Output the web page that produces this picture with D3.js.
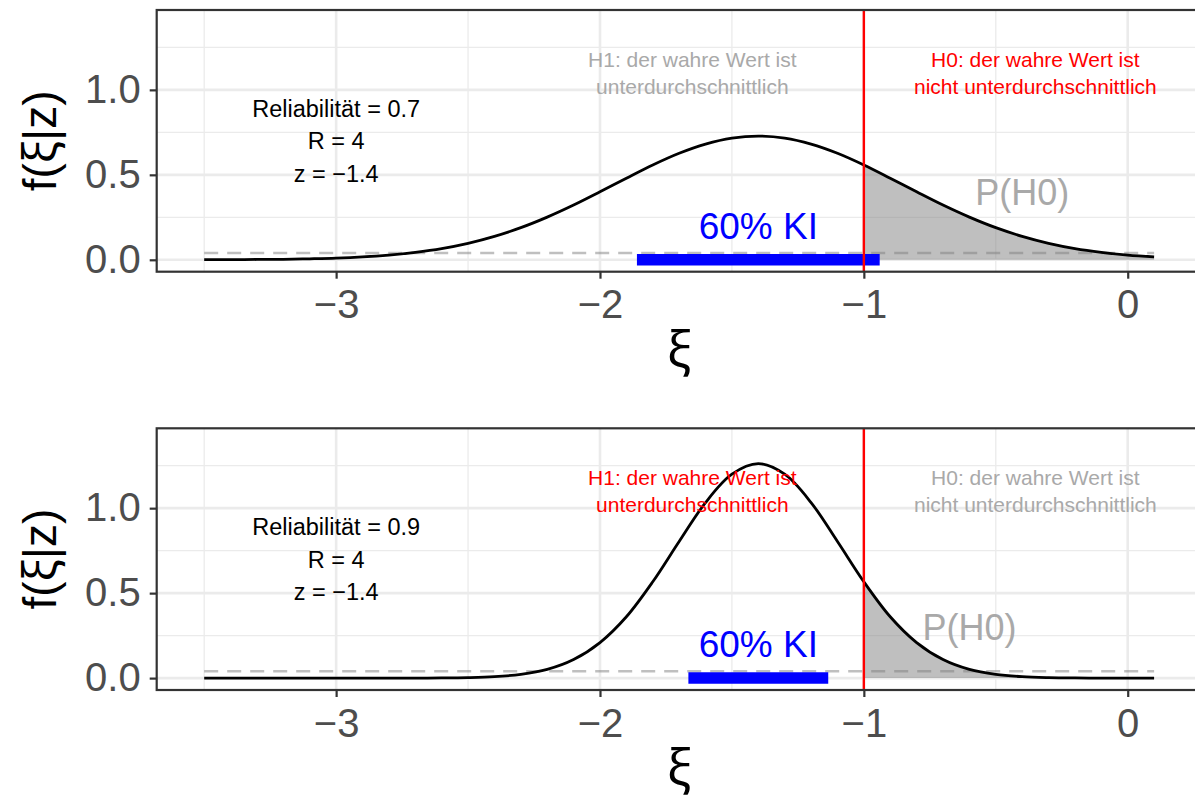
<!DOCTYPE html>
<html>
<head>
<meta charset="utf-8">
<script src="https://cdn.jsdelivr.net/npm/d3@7"></script>
<style>
  body { margin: 0; background: #fff; }
  svg { display: block; }
</style>
</head>
<body>
<svg id="chart" width="1195" height="801"></svg>
<script>
// ---- data -------------------------------------------------------------
// grid of true-score values xi
const xiValues = [-3.5, -3.4, -3.3, -3.2, -3.1, -3.0, -2.9, -2.8, -2.7, -2.6,
                  -2.5, -2.4, -2.3, -2.2, -2.1, -2.0, -1.9, -1.8, -1.7, -1.6,
                  -1.5, -1.4, -1.3, -1.2, -1.1, -1.0, -0.9, -0.8, -0.7, -0.6,
                  -0.5, -0.4, -0.3, -0.2, -0.1, 0.0, 0.1];

// posterior density f(xi|z), reliability 0.7
const densityRel07 = [0.0005, 0.001, 0.002, 0.003, 0.006, 0.010, 0.017, 0.028, 0.044, 0.066,
                      0.097, 0.138, 0.189, 0.251, 0.322, 0.400, 0.480, 0.558, 0.627, 0.681,
                      0.716, 0.728, 0.716, 0.681, 0.627, 0.558, 0.480, 0.400, 0.322, 0.251,
                      0.189, 0.138, 0.097, 0.066, 0.044, 0.028, 0.017];

// posterior density f(xi|z), reliability 0.9
const densityRel09 = [0, 0, 0, 0, 0, 0, 0, 0.0001, 0.0003, 0.0009,
                      0.003, 0.0085, 0.022, 0.051, 0.109, 0.209, 0.361, 0.567, 0.804, 1.033,
                      1.200, 1.262, 1.200, 1.033, 0.804, 0.567, 0.361, 0.209, 0.109, 0.051,
                      0.022, 0.0085, 0.003, 0.0009, 0.0003, 0.0001, 0];

// 60% confidence intervals
const ciRel07 = [-1.86, -0.94];
const ciRel09 = [-1.665, -1.135];

const reliabilities = ["0.7", "0.9"];
const criticalValue = -1;       // boundary between H1 and H0
const referenceLevel = 0.04;    // dashed reference line
const xTicks = [-3, -2, -1, 0];
const xMinor = [-3.5, -2.5, -1.5, -0.5];
const yTicks = [0, 0.5, 1.0];
const yMinor = [0.25, 0.75, 1.25];
const yLimits = [0, 1.4];

// ---- layout -----------------------------------------------------------
const svg = d3.select("#chart");
const FONT = "'Liberation Sans', Arial, Helvetica, sans-serif";
const GREEK = "'Noto Sans', 'DejaVu Sans', sans-serif";
const panelLeft = 156.7, panelRight = 1201.6, panelHeight = 261.7;
const panelTops = [10, 428.3];

const expand = (lo, hi) => { const p = (hi - lo) * 0.05; return [lo - p, hi + p]; };
const x = d3.scaleLinear()
  .domain(expand(d3.min(xiValues), d3.max(xiValues)))
  .range([panelLeft, panelRight]);

const panels = [
  { rel: reliabilities[0], dens: densityRel07, ci: ciRel07, h1Color: "#a9a9a9", h0Color: "#ff0000", pLabel: [-0.4, 0.4] },
  { rel: reliabilities[1], dens: densityRel09, ci: ciRel09, h1Color: "#ff0000", h0Color: "#a9a9a9", pLabel: [-0.6, 0.3] }
];

function multiline(g, lines, cx, cy, size, spacing, color) {
  const capHalf = 0.716 * size / 2;
  lines.forEach((t, i) => {
    g.append("text")
      .attr("x", cx)
      .attr("y", cy + (i - (lines.length - 1) / 2) * spacing + capHalf)
      .attr("text-anchor", "middle")
      .attr("font-family", FONT)
      .attr("font-size", size)
      .attr("fill", color)
      .text(t);
  });
}

panels.forEach((p, k) => {
  const top = panelTops[k];
  const bottom = top + panelHeight;
  const y = d3.scaleLinear().domain(expand(yLimits[0], yLimits[1])).range([bottom, top]);
  const pts = xiValues.map((v, i) => [v, p.dens[i]]);
  const g = svg.append("g");

  const clipId = "panel-clip-" + k;
  const shadeId = "shade-clip-" + k;
  const defs = g.append("defs");
  defs.append("clipPath").attr("id", clipId)
    .append("rect").attr("x", panelLeft).attr("y", top)
    .attr("width", panelRight - panelLeft).attr("height", panelHeight);
  defs.append("clipPath").attr("id", shadeId)
    .append("rect").attr("x", x(criticalValue)).attr("y", top)
    .attr("width", panelRight - x(criticalValue)).attr("height", panelHeight);

  // grid
  const grid = g.append("g");
  grid.selectAll(".vmin").data(xMinor).join("line")
    .attr("x1", d => x(d)).attr("x2", d => x(d)).attr("y1", top).attr("y2", bottom)
    .attr("stroke", "#ebebeb").attr("stroke-width", 1.3);
  grid.selectAll(".hmin").data(yMinor).join("line")
    .attr("x1", panelLeft).attr("x2", panelRight).attr("y1", d => y(d)).attr("y2", d => y(d))
    .attr("stroke", "#ebebeb").attr("stroke-width", 1.3);
  grid.selectAll(".vmaj").data(xTicks).join("line")
    .attr("x1", d => x(d)).attr("x2", d => x(d)).attr("y1", top).attr("y2", bottom)
    .attr("stroke", "#ebebeb").attr("stroke-width", 2.6);
  grid.selectAll(".hmaj").data(yTicks).join("line")
    .attr("x1", panelLeft).attr("x2", panelRight).attr("y1", d => y(d)).attr("y2", d => y(d))
    .attr("stroke", "#ebebeb").attr("stroke-width", 2.6);

  const marks = g.append("g").attr("clip-path", `url(#${clipId})`);
  const curve = d3.curveCatmullRom.alpha(0.5);

  // P(H0) region under the density
  marks.append("path")
    .datum(pts)
    .attr("clip-path", `url(#${shadeId})`)
    .attr("d", d3.area().x(d => x(d[0])).y0(y(0)).y1(d => y(d[1])).curve(curve))
    .attr("fill", "#7f7f7f").attr("fill-opacity", 0.5);

  // dashed reference line
  marks.append("line")
    .attr("x1", x(d3.min(xiValues))).attr("x2", x(d3.max(xiValues)))
    .attr("y1", y(referenceLevel)).attr("y2", y(referenceLevel))
    .attr("stroke", "#7f7f7f").attr("stroke-opacity", 0.5)
    .attr("stroke-width", 2.6).attr("stroke-dasharray", "14 9");

  // density curve
  marks.append("path")
    .datum(pts)
    .attr("d", d3.line().x(d => x(d[0])).y(d => y(d[1])).curve(curve))
    .attr("fill", "none").attr("stroke", "#000").attr("stroke-width", 2.8);

  // confidence interval
  marks.append("line")
    .attr("x1", x(p.ci[0])).attr("x2", x(p.ci[1]))
    .attr("y1", y(0)).attr("y2", y(0))
    .attr("stroke", "#0000ff").attr("stroke-width", 11.5);

  // critical value
  marks.append("line")
    .attr("x1", x(criticalValue)).attr("x2", x(criticalValue))
    .attr("y1", top).attr("y2", bottom)
    .attr("stroke", "#ff0000").attr("stroke-width", 2.4);

  // annotations
  multiline(g, ["H1: der wahre Wert ist", "unterdurchschnittlich"], x(-1.65), y(1.1), 21, 26.6, p.h1Color);
  multiline(g, ["H0: der wahre Wert ist", "nicht unterdurchschnittlich"], x(-0.35), y(1.1), 21, 26.6, p.h0Color);
  multiline(g, ["Reliabilität = " + p.rel, "R = 4", "z = \u22121.4"], x(-3), y(0.7), 23.5, 32.5, "#000");
  multiline(g, ["60% KI"], x(-1.4), y(0.2), 37, 0, "#0000ff");
  multiline(g, ["P(H0)"], x(p.pLabel[0]), y(p.pLabel[1]), 36, 0, "#a9a9a9");

  // panel border
  g.append("rect")
    .attr("x", panelLeft).attr("y", top)
    .attr("width", panelRight - panelLeft).attr("height", panelHeight)
    .attr("fill", "none").attr("stroke", "#333333").attr("stroke-width", 2.2);

  // axes
  const yAxis = g.append("g").attr("transform", `translate(${panelLeft},0)`)
    .call(d3.axisLeft(y).tickValues(yTicks).tickFormat(d3.format(".1f")).tickSize(7).tickPadding(9));
  const xAxis = g.append("g").attr("transform", `translate(0,${bottom})`)
    .call(d3.axisBottom(x).tickValues(xTicks).tickFormat(d3.format("d")).tickSize(7).tickPadding(11.3));
  [yAxis, xAxis].forEach(a => {
    a.select(".domain").remove();
    a.selectAll(".tick line").attr("stroke", "#333333").attr("stroke-width", 2.2);
    a.selectAll(".tick text").attr("fill", "#4d4d4d")
      .attr("font-family", FONT).attr("font-size", 40);
  });

  // axis titles
  const yt = g.append("text")
    .attr("transform", `translate(56,${(top + bottom) / 2}) rotate(-90)`)
    .attr("text-anchor", "middle")
    .attr("font-family", FONT).attr("font-size", 46).attr("fill", "#000");
  yt.append("tspan").text("f(");
  yt.append("tspan").attr("font-family", GREEK).text("ξ");
  yt.append("tspan").text("|z)");

  g.append("text")
    .attr("x", (panelLeft + panelRight) / 2)
    .attr("y", bottom + 95)
    .attr("text-anchor", "middle")
    .attr("font-family", GREEK)
    .attr("font-size", 50).attr("fill", "#000")
    .text("ξ");
});
</script>
</body>
</html>
